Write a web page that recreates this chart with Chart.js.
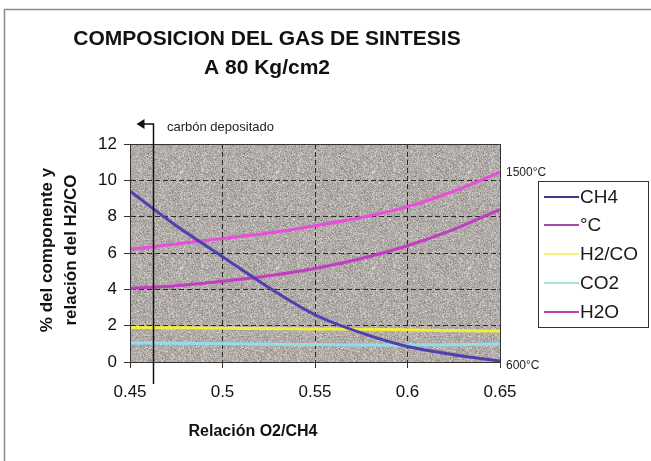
<!DOCTYPE html>
<html>
<head>
<meta charset="utf-8">
<script src="https://cdn.jsdelivr.net/npm/chart.js@4/dist/chart.umd.min.js"></script>
<style>
  html, body { margin: 0; padding: 0; background: #ffffff; }
  #wrap { width: 651px; height: 461px; position: relative; }
</style>
</head>
<body>
<div id="wrap"><canvas id="c" width="651" height="461"></canvas></div>
<script>
// ---- Data ----
const titleLines = ['COMPOSICION DEL GAS DE SINTESIS', 'A 80 Kg/cm2'];
const xTitle = 'Relación O2/CH4';
const yTitleLines = ['% del componente y', 'relación del H2/CO'];
const ratios = [0.45, 0.475, 0.5, 0.525, 0.55, 0.575, 0.6, 0.625, 0.65];
const ch4   = [9.4, 7.5, 5.8, 4.1, 2.6, 1.6, 0.85, 0.4, 0.05];
const tempC = [4.05, 4.2, 4.45, 4.75, 5.15, 5.7, 6.4, 7.3, 8.4];
const h2co  = [1.9, 1.88, 1.86, 1.84, 1.82, 1.8, 1.77, 1.73, 1.7];
const co2   = [1.05, 1.03, 1.0, 0.98, 0.96, 0.94, 0.93, 0.95, 1.0];
const h2o   = [6.2, 6.5, 6.8, 7.1, 7.5, 7.95, 8.55, 9.4, 10.45];
const seriesNames = ['CH4', '°C', 'H2/CO', 'CO2', 'H2O'];
const xTicks = [0.45, 0.5, 0.55, 0.6, 0.65];
const yTicks = [0, 2, 4, 6, 8, 10, 12];
const carbonLimit = 0.4625;
const carbonLabel = 'carbón depositado';
const tempHighLabel = '1500°C';
const tempLowLabel = '600°C';

const colors = ['#4f3fb0', '#c23cc4', '#f3ee3c', '#92dcef', '#ea4cdc'];
const legendColors = ['#3a3a8c', '#a848a8', '#f5f07a', '#a8e0dc', '#c040b0'];

const FONT = '"Liberation Sans", Arial, sans-serif';

function pts(arr) { return ratios.map((r, i) => ({ x: r, y: arr[i] })); }
const allSeries = [ch4, tempC, h2co, co2, h2o];

// texture for plot background (decorative)
function makeTexture() {
  const t = document.createElement('canvas');
  t.width = 96; t.height = 96;
  const g = t.getContext('2d');
  const img = g.createImageData(96, 96);
  for (let y = 0; y < 96; y++) {
    for (let x = 0; x < 96; x++) {
      let h = Math.sin(x * 12.9898 + y * 78.233) * 43758.5453;
      h = h - Math.floor(h);
      let h2 = Math.sin(x * 39.346 + y * 11.135) * 24634.6345;
      h2 = h2 - Math.floor(h2);
      let v = (h - 0.5) * 40 + (h2 > 0.85 ? 28 : 0) + (h2 < 0.1 ? -22 : 0);
      const i = (y * 96 + x) * 4;
      img.data[i] = Math.max(0, Math.min(255, 176 + v));
      img.data[i + 1] = Math.max(0, Math.min(255, 170 + v));
      img.data[i + 2] = Math.max(0, Math.min(255, 167 + v));
      img.data[i + 3] = 255;
    }
  }
  g.putImageData(img, 0, 0);
  return t;
}
const texture = makeTexture();

const decor = {
  id: 'decor',
  beforeDraw(chart) {
    const { ctx, chartArea: a } = chart;
    ctx.save();
    ctx.fillStyle = '#ffffff';
    ctx.fillRect(0, 0, chart.width, chart.height);
    // outer frame
    ctx.strokeStyle = '#8a8a8a';
    ctx.lineWidth = 1.5;
    ctx.beginPath();
    ctx.moveTo(4.5, 461); ctx.lineTo(4.5, 9.5); ctx.lineTo(651, 9.5);
    ctx.stroke();
    // plot background
    ctx.fillStyle = ctx.createPattern(texture, 'repeat');
    ctx.fillRect(a.left, a.top, a.right - a.left, a.bottom - a.top);
    ctx.restore();
  },
  afterDraw(chart) {
    const { ctx, chartArea: a } = chart;
    const xs = chart.scales.x;
    ctx.save();
    // plot frame
    ctx.strokeStyle = '#333';
    ctx.lineWidth = 1;
    ctx.strokeRect(a.left + 0.5, a.top + 0.5, a.right - a.left, a.bottom - a.top);

    // carbon deposited marker
    const cx = Math.round(xs.getPixelForValue(carbonLimit)) + 0.5;
    ctx.strokeStyle = '#111';
    ctx.lineWidth = 1.5;
    ctx.beginPath();
    ctx.moveTo(cx, 384); ctx.lineTo(cx, 124); ctx.lineTo(cx - 10, 124);
    ctx.stroke();
    ctx.fillStyle = '#111';
    ctx.beginPath();
    ctx.moveTo(cx - 17, 124); ctx.lineTo(cx - 9, 119); ctx.lineTo(cx - 9, 129);
    ctx.closePath(); ctx.fill();
    ctx.font = '13px ' + FONT;
    ctx.textBaseline = 'middle';
    ctx.textAlign = 'left';
    ctx.fillStyle = '#222';
    ctx.fillText(carbonLabel, 167, 127);

    // temperature scale labels
    ctx.font = '12px ' + FONT;
    ctx.fillText(tempHighLabel, 506, 173);
    ctx.fillText(tempLowLabel, 506, 366);

    // title
    ctx.fillStyle = '#111';
    ctx.textAlign = 'center';
    ctx.font = 'bold 21px ' + FONT;
    ctx.fillText(titleLines[0], 267, 39);
    ctx.fillText(titleLines[1], 267, 68);

    // x title
    ctx.font = 'bold 16px ' + FONT;
    ctx.fillText(xTitle, 253, 432);

    // y title
    ctx.save();
    ctx.translate(0, 250);
    ctx.rotate(-Math.PI / 2);
    ctx.font = 'bold 17px ' + FONT;
    ctx.fillText(yTitleLines[0], 0, 47);
    ctx.fillText(yTitleLines[1], 0, 71);
    ctx.restore();

    // legend
    const lx = 538, ly = 181, lw = 110, lh = 146;
    ctx.fillStyle = '#ffffff';
    ctx.fillRect(lx, ly, lw, lh);
    ctx.strokeStyle = '#333';
    ctx.lineWidth = 1;
    ctx.strokeRect(lx + 0.5, ly + 0.5, lw, lh);
    ctx.font = '19px ' + FONT;
    ctx.textAlign = 'left';
    ctx.textBaseline = 'middle';
    const rows = [197, 225, 254, 283, 312];
    seriesNames.forEach((n, i) => {
      ctx.strokeStyle = legendColors[i];
      ctx.lineWidth = 2;
      ctx.beginPath();
      ctx.moveTo(544, rows[i]); ctx.lineTo(579, rows[i]);
      ctx.stroke();
      ctx.fillStyle = '#1a1a1a';
      ctx.fillText(n, 580, rows[i] + 1);
    });
    ctx.restore();
  }
};

new Chart(document.getElementById('c'), {
  type: 'line',
  data: {
    datasets: seriesNames.map((n, i) => ({
      label: n,
      data: pts(allSeries[i]),
      borderColor: colors[i],
      backgroundColor: colors[i],
      borderWidth: 3,
      pointRadius: 0,
      fill: false,
      cubicInterpolationMode: 'monotone'
    }))
  },
  options: {
    responsive: false,
    animation: false,
    devicePixelRatio: 1,
    layout: { padding: { left: 0, right: 151, top: 144, bottom: 0 } },
    plugins: { legend: { display: false }, title: { display: false }, tooltip: { enabled: false } },
    scales: {
      x: {
        type: 'linear',
        min: 0.45, max: 0.65,
        afterBuildTicks: s => { s.ticks = xTicks.map(v => ({ value: v })); },
        afterFit: s => { s.height = 99; },
        ticks: {
          font: { size: 17, family: FONT }, color: '#111', padding: 14,
          maxRotation: 0, autoSkip: false,
          callback: v => String(v)
        },
        grid: { color: '#2a2a2a', lineWidth: 1, tickLength: 6, tickBorderDash: [], tickColor: '#333' },
        border: { display: true, color: '#333', dash: [5, 3] }
      },
      y: {
        min: 0, max: 12,
        afterBuildTicks: s => { s.ticks = yTicks.map(v => ({ value: v })); },
        afterFit: s => { s.width = 130; },
        ticks: {
          font: { size: 17, family: FONT }, color: '#111', padding: 7,
          callback: v => String(v)
        },
        grid: { color: '#2a2a2a', lineWidth: 1, tickLength: 6, tickBorderDash: [], tickColor: '#333' },
        border: { display: true, color: '#333', dash: [5, 3] }
      }
    }
  },
  plugins: [decor]
});
</script>
</body>
</html>
